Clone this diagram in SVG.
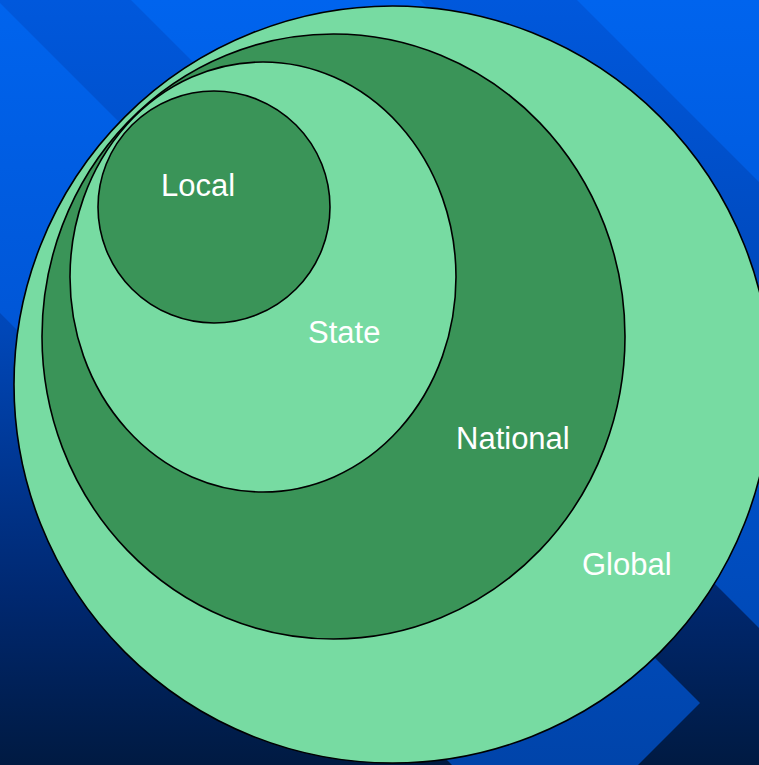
<svg xmlns="http://www.w3.org/2000/svg" width="759" height="765" viewBox="0 0 759 765">
  <defs>
    <!-- two vertical fades for the diagonal ribbon background -->
    <linearGradient id="bgDark" x1="0" y1="0" x2="0" y2="765" gradientUnits="userSpaceOnUse">
      <stop offset="0" stop-color="#0058DC"/>
      <stop offset="0.43" stop-color="#0047B8"/>
      <stop offset="0.65" stop-color="#00338A"/>
      <stop offset="0.78" stop-color="#002870"/>
      <stop offset="0.92" stop-color="#001F52"/>
      <stop offset="1" stop-color="#001A42"/>
    </linearGradient>
    <linearGradient id="bgLight" x1="0" y1="0" x2="0" y2="765" gradientUnits="userSpaceOnUse">
      <stop offset="0" stop-color="#0064EE"/>
      <stop offset="0.4" stop-color="#0057D8"/>
      <stop offset="1" stop-color="#0044AA"/>
    </linearGradient>
    <style>
      .ring { stroke: #000000; stroke-width: 1.6; }
      .pale { fill: #77DBA2; }
      .deep { fill: #3A9458; }
      .label { font-family: "Liberation Sans", Arial, sans-serif; font-size: 31px; fill: #FFFFFF; }
    </style>
  </defs>

  <!-- background: dark fade with lighter 45-degree ribbons -->
  <g id="background">
    <rect x="0" y="0" width="759" height="765" fill="url(#bgDark)"/>
    <!-- top-right corner ribbon -->
    <polygon points="577,0 759,0 759,182" fill="url(#bgLight)"/>
    <!-- middle ribbon -->
    <polygon points="131,0 420,0 759,339 759,628 " fill="url(#bgLight)"/>
    <!-- lower ribbon ending in a chevron -->
    <polygon points="0,3 0,313 452,765 638,765 700,703" fill="url(#bgLight)"/>
  </g>

  <g id="global">
    <ellipse class="ring pale" cx="392.5" cy="384.5" rx="378.5" ry="378.5"/>
    <text class="label" x="582" y="575">Global</text>
  </g>

  <g id="national">
    <ellipse class="ring deep" cx="333.5" cy="336.5" rx="291.5" ry="302.5"/>
    <text class="label" x="456" y="449">National</text>
  </g>

  <g id="state">
    <ellipse class="ring pale" cx="263" cy="277" rx="193" ry="215"/>
    <text class="label" x="308" y="343">State</text>
  </g>

  <g id="local">
    <ellipse class="ring deep" cx="214" cy="207" rx="116" ry="116"/>
    <text class="label" x="161" y="196">Local</text>
  </g>

  <g id="connectors"/>
</svg>
